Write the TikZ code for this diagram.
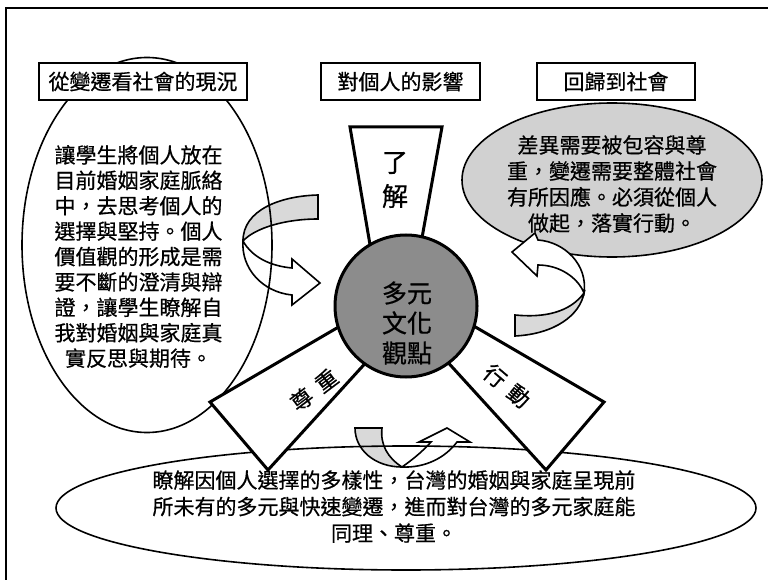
\documentclass[tikz,border=0pt]{standalone}
\usepackage{fontspec}
\newfontfamily\zhfont[FakeBold=0.6]{Noto Sans CJK TC}
\usetikzlibrary{shapes.geometric}

\begin{document}
\begin{tikzpicture}
  [x=1pt, y=-1pt,
   zh/.style={font=\zhfont\fontsize{21}{25.5}\selectfont, align=center, inner sep=0pt},
   title box/.style={draw, fill=white, line width=1.6pt, minimum height=37pt, zh},
   bubble/.style={draw, ellipse, line width=1.6pt, inner sep=0pt},
   spoke/.style={draw, fill=white, line width=3pt, line join=miter},
   turn back/.style={draw, fill=black!15, line width=1.6pt},
   turn front/.style={draw, fill=white, line width=1.6pt}]

  \useasboundingbox (0,0) rectangle (768,580);
  \draw[line width=1.5pt] (6,580) -- (6,8) -- (768,8);

  % turning arrow on the left, under the bubble
  \path[turn back] (318,195) .. controls (280,196) and (243,210) .. (243,241)
    .. controls (255,228) and (285,219) .. (318,219) -- cycle;
  \path[turn front] (243,241) .. controls (241,268) and (262,292) .. (292,295)
    -- (292,305) -- (320,283) -- (292,259) -- (292,268)
    .. controls (270,266) and (252,257) .. (243,241) -- cycle;

  \node[bubble, minimum width=250pt, minimum height=375pt] (society) at (147,245) {};
  \node[bubble, fill=black!18, minimum width=300pt, minimum height=154pt] (return) at (612,180) {};

  % turning arrow on the right
  \path[turn back] (515,315) .. controls (545,318) and (570,312) .. (584,293)
    .. controls (580,315) and (555,334) .. (515,336) -- cycle;
  \path[turn front] (584,293) .. controls (588,265) and (565,242) .. (538,240)
    -- (535,233) -- (512,252) -- (537,276) -- (538,265)
    .. controls (560,265) and (578,278) .. (584,293) -- cycle;

  % turning arrow at the bottom
  \path[turn back] (355,428) .. controls (355,450) and (375,467) .. (402,467)
    .. controls (388,458) and (380,445) .. (382,428) -- cycle;
  \path[turn front] (402,467) .. controls (425,468) and (445,458) .. (457,442)
    -- (470,442) -- (447,428) -- (419,442) -- (431,442)
    .. controls (422,452) and (412,460) .. (402,467) -- cycle;

  \node[bubble, minimum width=700pt, minimum height=124pt] (insight) at (406,508) {};

  % three spokes and the hub
  \path[spoke] (350,127) -- (376,280) -- (416,271) -- (442,127) -- cycle;
  \path[spoke] (210,402) -- (268,470) -- (381,346) -- (366,311) -- cycle;
  \path[spoke] (604,402) -- (546,470) -- (433,346) -- (448,311) -- cycle;
  \node[circle, draw, line width=3pt, fill=black!45, minimum size=142pt, inner sep=0pt] (hub) at (406,306) {};

  \node[zh, font=\zhfont\fontsize{25}{30}\selectfont] (hubtext) at (407,323) {多元\\文化\\觀點};
  \node[zh, font=\zhfont\fontsize{26}{34}\selectfont] (know) at (395,180) {了\\解};
  \node[zh, font=\zhfont\fontsize{22}{26}\selectfont, rotate=37] (respect) at (314,390) {尊\hspace{9pt}重};
  \node[zh, font=\zhfont\fontsize{22}{26}\selectfont, rotate=-40] (act) at (507,386) {行\hspace{9pt}動};

  \node[title box, minimum width=208pt] (trend) at (143,81.5) {從變遷看社會的現況};
  \node[title box, minimum width=159pt] (self) at (400.5,81.5) {對個人的影響};
  \node[title box, minimum width=158pt] (back) at (616,81.5) {回歸到社會};

  \node[zh, font=\zhfont\fontsize{21}{25.4}\selectfont] (societytext) at (138.5,256.5)
    {讓學生將個人放在\\目前婚姻家庭脈絡\\中，去思考個人的\\選擇與堅持。個人\\價值觀的形成是需\\要不斷的澄清與辯\\證，讓學生瞭解自\\我對婚姻與家庭真\\實反思與期待。};
  \node[zh, font=\zhfont\fontsize{21}{26}\selectfont] (returntext) at (612,184)
    {差異需要被包容與尊\\重，變遷需要整體社會\\有所因應。必須從個人\\做起，落實行動。};
  \node[zh, font=\zhfont\fontsize{21}{26.5}\selectfont] (insighttext) at (394,506.5)
    {瞭解因個人選擇的多樣性，台灣的婚姻與家庭呈現前\\所未有的多元與快速變遷，進而對台灣的多元家庭能\\同理、尊重。};
\end{tikzpicture}
\end{document}
